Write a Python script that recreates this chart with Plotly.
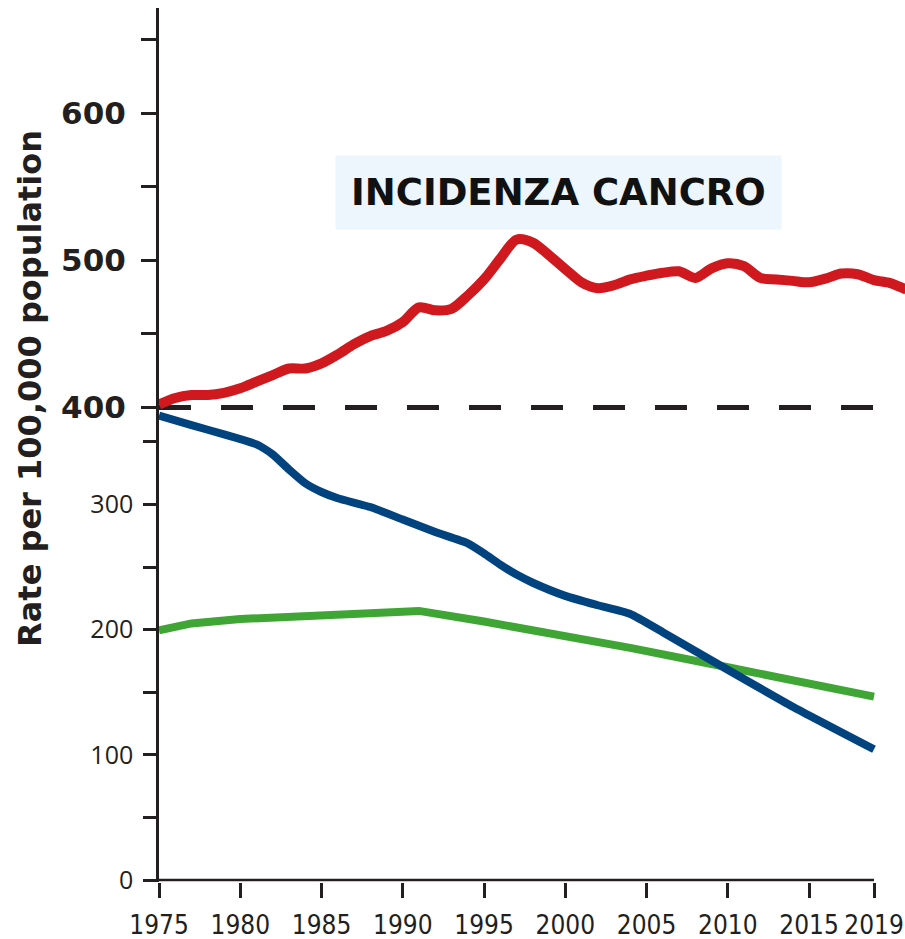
import plotly.graph_objects as go

# ---- data ----
red_years = list(range(1975, 2022))
red_values = [402, 406.5, 408.5, 408.5, 410, 413, 417.5, 422, 426.5, 426.5,
              430, 436, 443, 448.5, 452, 458, 468, 466, 467, 476,
              487, 501, 514, 512, 503.5, 494, 485, 481, 483, 487,
              489.5, 491.5, 492.5, 488, 494.5, 498, 496, 488, 487, 486,
              485, 487.5, 491, 490.5, 486.5, 484.5, 480]

blue_years = [1975, 1977, 1979, 1981, 1982, 1983, 1984, 1985, 1986, 1988, 1990,
              1992, 1994, 1995, 1996, 1997, 1998, 2000, 2002, 2004, 2006, 2010,
              2014, 2019]
blue_values = [371, 363.5, 356, 348, 340, 328, 317, 310, 305, 298, 288,
               278, 269, 261, 252, 244, 237.5, 227, 219.5, 212.5, 198, 168,
               138.5, 104.5]

green_years = [1975, 1977, 1980, 1985, 1991, 1995, 2000, 2004, 2010, 2015, 2019]
green_values = [199.5, 205, 208.5, 211.5, 215, 206.5, 195.5, 185.5, 170, 157, 146.5]

ref_years = [1975, 2019]
ref_values = [400, 400]

axis_years = [1975, 2019]
axis_values = [0, 0]

x_tickvals = [1975, 1980, 1985, 1990, 1995, 2000, 2005, 2010, 2015, 2019]
x_ticktext = ["1975", "1980", "1985", "1990", "1995", "2000", "2005", "2010", "2015", "2019"]

low_tickvals = [0, 50, 100, 150, 200, 250, 300, 350]
low_ticktext = ["0", "", "100", "", "200", "", "300", ""]

up_tickvals = [400, 450, 500, 550, 600, 650]
up_ticktext = ["400", "", "500", "", "600", ""]

title_text = "INCIDENZA CANCRO"
ylabel_text = "Rate per 100,000 population"

# ---- figure ----
INK = "#231f20"
fig = go.Figure()

fig.add_trace(go.Scatter(x=axis_years, y=axis_values, mode="lines",
                         line=dict(color=INK, width=2.5), yaxis="y",
                         hoverinfo="skip", showlegend=False))
fig.add_trace(go.Scatter(x=green_years, y=green_values, mode="lines",
                         line=dict(color="#3fa535", width=8), yaxis="y",
                         showlegend=False))
fig.add_trace(go.Scatter(x=blue_years, y=blue_values, mode="lines",
                         line=dict(color="#00437f", width=8, shape="spline", smoothing=0.5),
                         yaxis="y", showlegend=False))
fig.add_trace(go.Scatter(x=ref_years, y=ref_values, mode="lines",
                         line=dict(color=INK, width=5, dash="32px,30px"), yaxis="y2",
                         showlegend=False))
fig.add_trace(go.Scatter(x=red_years, y=red_values, mode="lines",
                         line=dict(color="#d0191f", width=10, shape="spline", smoothing=0.8),
                         yaxis="y2", showlegend=False))

fig.update_layout(
    width=905, height=939,
    margin=dict(l=159, r=0, t=8, b=57),
    paper_bgcolor="white", plot_bgcolor="white",
    xaxis=dict(range=[1975, 2020.908], showgrid=False, zeroline=False, showline=False,
               tickmode="array", tickvals=x_tickvals, ticktext=x_ticktext,
               ticks="outside", ticklen=15, tickwidth=2.5, tickcolor=INK,
               ticklabelstandoff=5,
               tickfont=dict(family="DejaVu Sans Condensed, Liberation Sans Narrow, Roboto, sans-serif",
                             size=26, color=INK)),
    yaxis=dict(range=[-1.598, 696.7], showgrid=False, zeroline=False,
               showline=True, linecolor=INK, linewidth=2.5,
               tickmode="array", tickvals=low_tickvals, ticktext=low_ticktext,
               ticks="outside", ticklen=13, tickwidth=2.5, tickcolor=INK,
               ticklabelstandoff=5,
               tickfont=dict(family="Open Sans", size=25, color=INK)),
    yaxis2=dict(range=[77.76, 671.31], overlaying="y", side="left", anchor="x",
                showgrid=False, zeroline=False, showline=False,
                tickmode="array", tickvals=up_tickvals, ticktext=up_ticktext,
                ticks="outside", ticklen=17, tickwidth=2.5, tickcolor=INK,
                ticklabelstandoff=9,
                tickfont=dict(family="DejaVu Sans", size=31, color=INK, weight="bold")),
    annotations=[
        dict(text=title_text, xref="x", yref="y2", x=1999.6, y=546,
             xanchor="center", yanchor="middle",
             showarrow=False, bgcolor="#edf5fd", borderpad=15,
             font=dict(family="DejaVu Sans", size=37, color="#111111", weight="bold")),
        dict(text=ylabel_text, xref="paper", yref="paper", x=-0.172, y=0.565,
             xanchor="center", yanchor="middle",
             textangle=-90, showarrow=False,
             font=dict(family="DejaVu Sans", size=32, color=INK, weight="bold")),
    ],
)

fig.write_html("out.html",
               config={"displayModeBar": False},
               post_script="document.body.style.margin='0';document.body.style.overflow='hidden';")
